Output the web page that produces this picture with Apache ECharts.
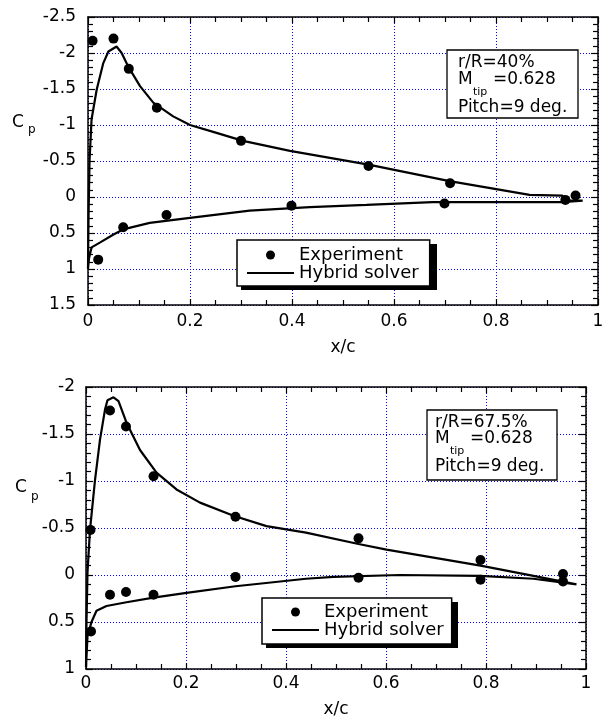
<!DOCTYPE html>
<html>
<head>
<meta charset="utf-8">
<script src="https://cdn.jsdelivr.net/npm/echarts@6/dist/echarts.min.js"></script>
<style>
html,body{margin:0;padding:0;background:#fff;}
#chart{width:610px;height:719px;}
</style>
</head>
<body>
<div id="chart"></div>
<script>
// ---------- Data ----------
// Top panel: r/R = 40%
const topExpX = [0.009, 0.05, 0.08, 0.135, 0.30, 0.55, 0.71, 0.956, 0.936, 0.02, 0.069, 0.154, 0.399, 0.699];
const topExpY = [-2.17, -2.2, -1.78, -1.24, -0.78, -0.43, -0.19, -0.02, 0.04, 0.87, 0.42, 0.25, 0.12, 0.09];
const topSolverX = [0.97, 0.93, 0.807, 0.676, 0.546, 0.435, 0.317, 0.2, 0.121, 0.069, 0.05, 0.024, 0.007, 0.002, 0,
                    0.001, 0.002, 0.003, 0.007, 0.017, 0.03, 0.04, 0.056, 0.066, 0.079, 0.102, 0.128, 0.167, 0.2, 0.252, 0.304, 0.396, 0.55, 0.709, 0.866, 0.93, 0.935, 0.97];
const topSolverY = [0.05, 0.07, 0.07, 0.07, 0.11, 0.14, 0.19, 0.29, 0.36, 0.45, 0.52, 0.63, 0.70, 0.85, 1.0,
                    0.3, -0.1, -0.5, -1.08, -1.49, -1.86, -2.02, -2.09, -2.0, -1.81, -1.54, -1.31, -1.12, -1.0, -0.89, -0.78, -0.64, -0.45, -0.22, -0.03, -0.02, 0.05, 0.05];

// Bottom panel: r/R = 67.5%
const botExpX = [0.009, 0.048, 0.08, 0.135, 0.299, 0.545, 0.789, 0.954, 0.01, 0.048, 0.08, 0.135, 0.299, 0.545, 0.789, 0.954];
const botExpY = [-0.48, -1.75, -1.58, -1.05, -0.62, -0.39, -0.16, -0.01, 0.60, 0.21, 0.18, 0.21, 0.02, 0.03, 0.05, 0.07];
const botSolverX = [0.981, 0.895, 0.788, 0.628, 0.495, 0.44, 0.299, 0.201, 0.135, 0.081, 0.041, 0.021, 0.011, 0.003, 0,
                    0.001, 0.003, 0.008, 0.018, 0.028, 0.038, 0.043, 0.055, 0.065, 0.081, 0.108, 0.141, 0.181, 0.228, 0.295, 0.361, 0.44, 0.545, 0.601, 0.789, 0.895, 0.981];
const botSolverY = [0.10, 0.04, 0.01, 0.0, 0.02, 0.04, 0.12, 0.19, 0.24, 0.29, 0.33, 0.38, 0.50, 0.65, 0.98,
                    0.5, -0.03, -0.48, -1.01, -1.44, -1.76, -1.86, -1.89, -1.85, -1.62, -1.33, -1.09, -0.91, -0.77, -0.63, -0.52, -0.45, -0.33, -0.27, -0.10, 0.01, 0.10];

const seriesNames = ['Experiment', 'Hybrid solver'];
const xLabel = 'x/c';
const topRange = { min: -2.5, max: 1.5 };
const botRange = { min: -2, max: 1 };
const annotTop = ['r/R=40%', 'M', 'tip', '=0.628', 'Pitch=9 deg.'];
const annotBot = ['r/R=67.5%', 'M', 'tip', '=0.628', 'Pitch=9 deg.'];

// ---------- Helpers ----------
const FONT = 'DejaVu Sans';
const INK = '#000';
const GRIDBLUE = '#0000ff';
const zip = (xs, ys) => xs.map((x, i) => [x, ys[i]]);

const gridLine = { show: true, lineStyle: { color: GRIDBLUE, type: [1, 2], width: 1, opacity: 1 } };

function mainX(gridIndex, labelMargin, nameGap) {
  return {
    type: 'value', gridIndex, position: 'bottom', min: 0, max: 1, interval: 0.2,
    name: xLabel, nameLocation: 'middle', nameGap,
    nameTextStyle: { fontFamily: FONT, fontSize: 17, color: INK },
    axisLine: { show: true, onZero: false, lineStyle: { color: INK, width: 1.5 } },
    axisTick: { show: true, inside: true, length: 6, lineStyle: { color: INK, width: 1.2 } },
    minorTick: { show: true, splitNumber: 4, length: 5, lineStyle: { color: INK, width: 1.2 } },
    axisLabel: { fontFamily: FONT, fontSize: 17, color: INK, margin: labelMargin },
    splitLine: gridLine
  };
}
function sideX(gridIndex) {
  return {
    type: 'value', gridIndex, position: 'top', min: 0, max: 1, interval: 0.2,
    axisLine: { show: true, onZero: false, lineStyle: { color: INK, width: 1.5 } },
    axisTick: { show: true, inside: true, length: 6, lineStyle: { color: INK, width: 1.2 } },
    minorTick: { show: true, splitNumber: 4, length: 5, lineStyle: { color: INK, width: 1.2 } },
    axisLabel: { show: false }, splitLine: { show: false }
  };
}
function mainY(gridIndex, range, margin) {
  return {
    type: 'value', gridIndex, position: 'left', inverse: true, min: range.min, max: range.max, interval: 0.5,
    axisLine: { show: true, onZero: false, lineStyle: { color: INK, width: 1.5 } },
    axisTick: { show: true, inside: true, length: 7, lineStyle: { color: INK, width: 1.2 } },
    minorTick: { show: true, splitNumber: 5, length: 5, lineStyle: { color: INK, width: 1.2 } },
    axisLabel: { fontFamily: FONT, fontSize: 17, color: INK, margin },
    splitLine: gridLine
  };
}
function sideY(gridIndex, range) {
  return {
    type: 'value', gridIndex, position: 'right', inverse: true, min: range.min, max: range.max, interval: 0.5,
    axisLine: { show: true, onZero: false, lineStyle: { color: INK, width: 1.5 } },
    axisTick: { show: true, inside: true, length: 7, lineStyle: { color: INK, width: 1.2 } },
    minorTick: { show: true, splitNumber: 5, length: 5, lineStyle: { color: INK, width: 1.2 } },
    axisLabel: { show: false }, splitLine: { show: false }
  };
}
function legendAt(left, top, padding) {
  return {
    data: [{ name: seriesNames[0], icon: 'circle' }, { name: seriesNames[1] }],
    orient: 'vertical', left, top, padding, itemGap: 0,
    itemWidth: 47, itemHeight: 9,
    textStyle: { fontFamily: FONT, fontSize: 18, color: INK },
    backgroundColor: '#fff', borderColor: INK, borderWidth: 1.5, borderRadius: 0,
    selectedMode: false, z: 10
  };
}
function txt(x, y, text, size) {
  return { type: 'text', z: 100, style: { x, y, text, fontFamily: FONT, fontSize: size, fill: INK, align: 'left', verticalAlign: 'middle' } };
}
function shadowRect(x, y, w, h) {
  return { type: 'rect', z: 5, shape: { x, y, width: w, height: h }, style: { fill: '#000' } };
}
function annot(rect, lines, pos) {
  return [
    { type: 'rect', z: 99, shape: rect, style: { fill: '#fff', stroke: INK, lineWidth: 1.3 } },
    txt(pos.x, pos.y0, lines[0], 17),
    txt(pos.x, pos.y1, lines[1], 17),
    txt(pos.x + 15, pos.y1 + 12, lines[2], 11),
    txt(pos.x + pos.eq, pos.y1, lines[3], 17),
    txt(pos.x, pos.y2, lines[4], 17)
  ];
}
function solverSeries(axis, xs, ys) {
  return { name: seriesNames[1], type: 'line', xAxisIndex: axis, yAxisIndex: axis, data: zip(xs, ys),
    symbol: 'none', showSymbol: false, smooth: false,
    lineStyle: { color: INK, width: 2.2 },
    itemStyle: { color: 'rgba(0,0,0,0)', borderWidth: 0 }, z: 3 };
}
function expSeries(axis, xs, ys) {
  return { name: seriesNames[0], type: 'scatter', xAxisIndex: axis, yAxisIndex: axis, data: zip(xs, ys),
    symbol: 'circle', symbolSize: 10, itemStyle: { color: INK, opacity: 1 }, z: 4 };
}

const option = {
  backgroundColor: '#fff',
  animation: false,
  grid: [
    { left: 88, top: 17, width: 510, height: 288 },
    { left: 86, top: 387, width: 500, height: 282 }
  ],
  xAxis: [mainX(0, 8, 34), sideX(0), mainX(1, 6, 32), sideX(1)],
  yAxis: [mainY(0, topRange, 12), sideY(0, topRange), mainY(1, botRange, 11), sideY(1, botRange)],
  legend: [legendAt(237, 240, [6, 11, 4, 9]), legendAt(262, 598, [5, 8, 5, 9])],
  series: [
    solverSeries(0, topSolverX, topSolverY),
    expSeries(0, topExpX, topExpY),
    solverSeries(2, botSolverX, botSolverY),
    expSeries(2, botExpX, botExpY)
  ],
  graphic: [
    shadowRect(241, 244, 196, 46),
    shadowRect(266, 602, 192, 46),
    txt(12, 122.5, 'C', 17),
    txt(28, 130, 'p', 12),
    txt(15, 487.5, 'C', 17),
    txt(31, 497, 'p', 12),
    ...annot({ x: 447, y: 50, width: 131, height: 68 }, annotTop, { x: 458, y0: 62.5, y1: 80, y2: 107.5, eq: 35 }),
    ...annot({ x: 427, y: 410, width: 130, height: 70 }, annotBot, { x: 435, y0: 422.5, y1: 439, y2: 466.5, eq: 35 })
  ]
};

const chart = echarts.init(document.getElementById('chart'), null, { renderer: 'canvas' });
chart.setOption(option);
</script>
</body>
</html>
